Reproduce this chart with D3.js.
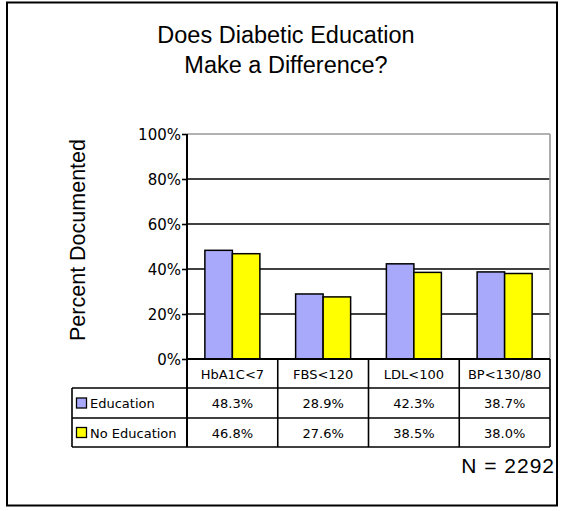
<!DOCTYPE html>
<html>
<head>
<meta charset="utf-8">
<script src="https://cdn.jsdelivr.net/npm/d3@7"></script>
<style>
  html, body { margin: 0; padding: 0; background: #fff; }
  svg { display: block; }
</style>
</head>
<body>
<svg id="chart" width="565" height="511"></svg>
<script>
const categories = ["HbA1C<7", "FBS<120", "LDL<100", "BP<130/80"];
const seriesNames = ["Education", "No Education"];
const education = [48.3, 28.9, 42.3, 38.7];
const noEducation = [46.8, 27.6, 38.5, 38.0];
const yTicks = [0, 20, 40, 60, 80, 100];
const titleLines = ["Does Diabetic Education", "Make a Difference?"];
const yLabel = "Percent Documented";
const note = "N = 2292";
const colors = ["#a9a9fc", "#ffff00"];

(function () {
const series = [education, noEducation];
const svg = d3.select("#chart");

// outer frame
svg.append("rect").attr("x", 7).attr("y", 2.5).attr("width", 550).attr("height", 503)
  .attr("fill", "#fff").attr("stroke", "#000").attr("stroke-width", 2);

// title
svg.append("g").selectAll("text").data(titleLines).join("text")
  .attr("x", 286).attr("y", (d, i) => 43 + i * 30)
  .attr("text-anchor", "middle")
  .attr("font-family", "Liberation Sans, Arial, sans-serif")
  .attr("font-size", 23.5).attr("fill", "#000")
  .text(d => d);

const pLeft = 187, pRight = 550, pTop = 134, pBottom = 359;
const x = d3.scaleBand().domain(categories).range([pLeft, pRight]);
const y = d3.scaleLinear().domain([0, 100]).range([pBottom, pTop]);
const barGap = 1.3;
const bw = x.bandwidth() / (2 + barGap);
const xs = d3.scaleBand().domain(seriesNames).range([0, 2 * bw]);

// gridlines
svg.append("g").selectAll("line").data(yTicks.filter(t => t > 0)).join("line")
  .attr("x1", pLeft).attr("x2", pRight)
  .attr("y1", d => y(d)).attr("y2", d => y(d))
  .attr("stroke", d => d === 100 ? "#999" : "#000")
  .attr("stroke-width", 1.6);
// right border of plot
svg.append("line").attr("x1", pRight).attr("x2", pRight).attr("y1", pTop).attr("y2", pBottom)
  .attr("stroke", "#999").attr("stroke-width", 1.6);

// bars
const groups = svg.append("g").selectAll("g").data(categories).join("g")
  .attr("transform", c => `translate(${x(c) + (x.bandwidth() - 2 * bw) / 2},0)`);
groups.selectAll("rect").data((c, i) => series.map((s, k) => ({ k, v: s[i] }))).join("rect")
  .attr("x", d => xs(seriesNames[d.k]))
  .attr("width", bw)
  .attr("y", d => y(d.v))
  .attr("height", d => y(0) - y(d.v))
  .attr("fill", d => colors[d.k])
  .attr("stroke", "#000").attr("stroke-width", 1.5);

// y axis
const yAxis = d3.axisLeft(y).tickValues(yTicks).tickFormat(d => d + "%").tickSize(5).tickPadding(1);
const ya = svg.append("g").attr("transform", `translate(${pLeft},0)`).call(yAxis);
ya.select(".domain").remove();
ya.selectAll(".tick line").attr("stroke", "#000").attr("stroke-width", 1.6);
ya.selectAll(".tick text").attr("font-family", "DejaVu Sans, Verdana, sans-serif")
  .attr("font-size", 15).attr("fill", "#000").attr("dy", "0.36em");
svg.append("line").attr("x1", pLeft).attr("x2", pLeft).attr("y1", pTop).attr("y2", 447)
  .attr("stroke", "#000").attr("stroke-width", 2);

// y label
svg.append("text").attr("transform", "translate(85,240) rotate(-90)")
  .attr("text-anchor", "middle")
  .attr("font-family", "Liberation Sans, Arial, sans-serif")
  .attr("font-size", 21.5).attr("fill", "#000").text(yLabel);

// data table
const tLeft = 72, rowH = [359, 388, 418, 447];
const tbl = svg.append("g");
const lineAttrs = sel => sel.attr("stroke", "#000").attr("stroke-width", 1.6);
tbl.append("line").attr("x1", pLeft).attr("x2", pRight).attr("y1", rowH[0]).attr("y2", rowH[0]).call(lineAttrs).attr("stroke-width", 2);
[rowH[1], rowH[2], rowH[3]].forEach(yy => {
  tbl.append("line").attr("x1", tLeft).attr("x2", pRight).attr("y1", yy).attr("y2", yy).call(lineAttrs);
});
tbl.append("line").attr("x1", tLeft).attr("x2", tLeft).attr("y1", rowH[1]).attr("y2", rowH[3]).call(lineAttrs);
categories.forEach(c => {
  const xx = x(c) + x.bandwidth();
  tbl.append("line").attr("x1", xx).attr("x2", xx).attr("y1", rowH[0]).attr("y2", rowH[3]).call(lineAttrs);
});
const fontT = "DejaVu Sans, Verdana, sans-serif";
tbl.selectAll("text.hdr").data(categories).join("text").attr("class", "hdr")
  .attr("x", c => x(c) + x.bandwidth() / 2).attr("y", (rowH[0] + rowH[1]) / 2 + 5)
  .attr("text-anchor", "middle").attr("font-family", fontT).attr("font-size", 13)
  .text(c => c);
series.forEach((s, k) => {
  const yc = (rowH[k + 1] + rowH[k + 2]) / 2;
  tbl.append("rect").attr("x", 76.5).attr("y", yc - 5).attr("width", 10).attr("height", 10)
    .attr("fill", colors[k]).attr("stroke", "#000").attr("stroke-width", 1.3);
  tbl.append("text").attr("x", 90).attr("y", yc + 5).attr("font-family", fontT)
    .attr("font-size", 13).text(seriesNames[k]);
  tbl.selectAll(null).data(s).join("text")
    .attr("x", (v, i) => x(categories[i]) + x.bandwidth() / 2).attr("y", yc + 5)
    .attr("text-anchor", "middle").attr("font-family", fontT).attr("font-size", 13)
    .text(v => v.toFixed(1) + "%");
});

svg.append("text").attr("x", 555).attr("y", 473).attr("text-anchor", "end")
  .attr("font-family", "Liberation Sans, Arial, sans-serif").attr("font-size", 21)
  .attr("letter-spacing", 1)
  .text(note);
})();
</script>
</body>
</html>
